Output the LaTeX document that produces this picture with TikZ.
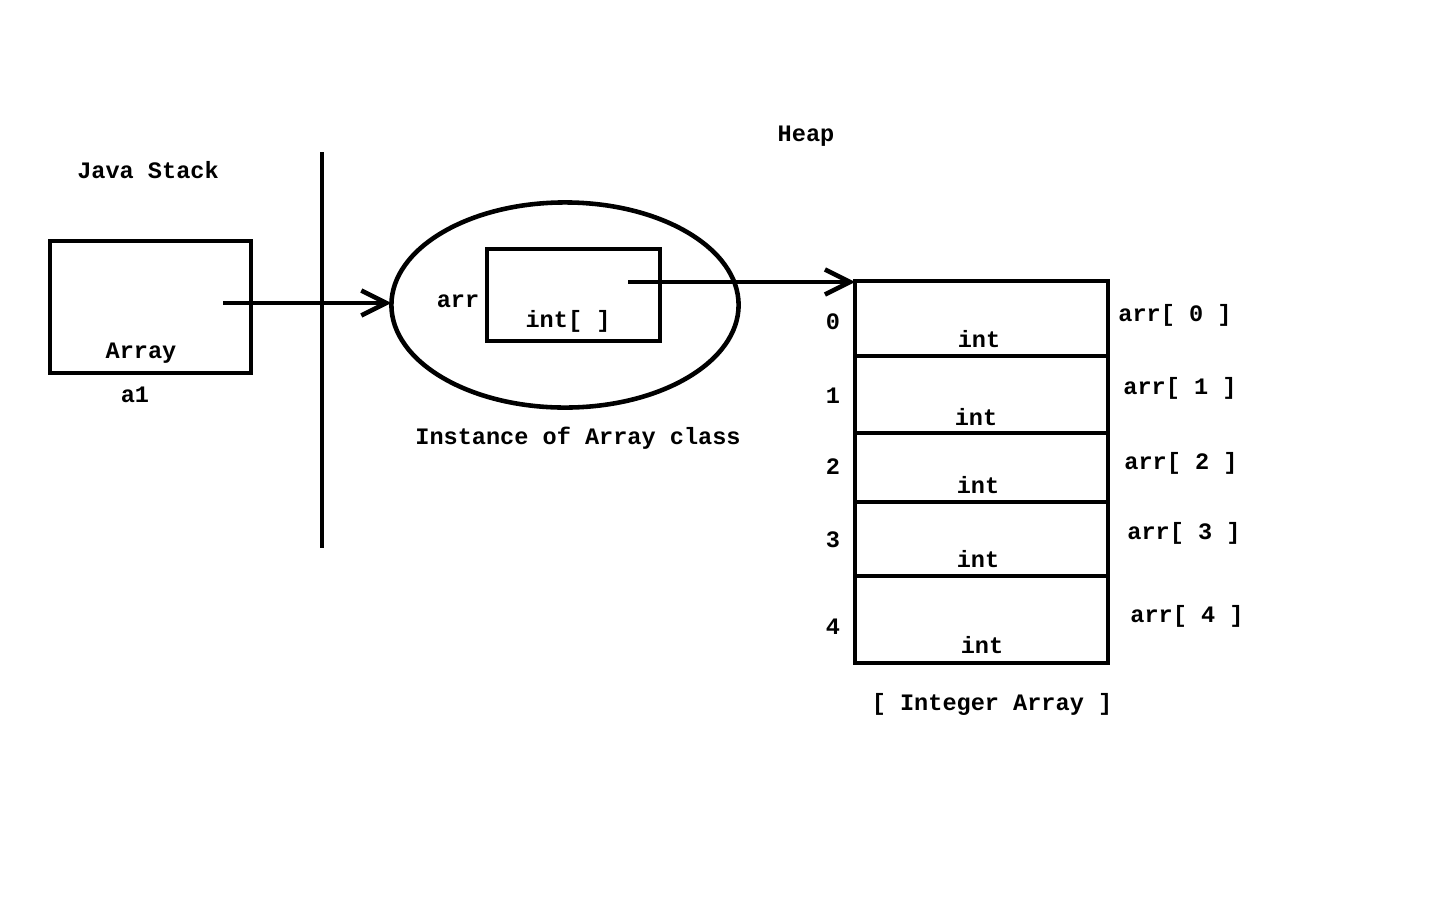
\documentclass[tikz,border=0pt]{standalone}
\usepackage{fontspec}
\setmonofont{Liberation Mono}
\usetikzlibrary{arrows.meta,shapes.geometric,positioning}

\tikzset{
  lbl/.style={font=\ttfamily\bfseries\fontsize{6.7}{8}\selectfont, inner sep=0pt},
  wire/.style={line width=1.3pt},
  ptr/.style={wire, -{Straight Barb[length=2.5mm,width=2.5mm]}},
  boxnode/.style={draw, line width=1.3pt, inner sep=0pt, outer sep=0pt, anchor=north west},
}

\begin{document}
\begin{tikzpicture}[x=0.01cm,y=-0.01cm]
\useasboundingbox (0,0) rectangle (1440,900);

% stack side
\node[lbl] (stacktitle) at (148,170) {Java Stack};
\node[boxnode, minimum width=2.01cm, minimum height=1.32cm] (stackbox) at (50,241) {};
\node[lbl] (stacktype) at (141,353) {Array};
\node[lbl] (stackvar) at (135,395) {a1};
\coordinate (septop) at (322,152);
\coordinate (sepbot) at (322,548);
\draw[wire] (septop) -- (sepbot);

% instance on the heap
\node[lbl] (heaptitle) at (806,136) {Heap};
\node[draw, ellipse, line width=1.3pt, inner sep=0pt, outer sep=0pt,
      minimum width=3.47cm, minimum height=2.05cm] (inst) at (565,305) {};
\node[boxnode, minimum width=1.73cm, minimum height=0.92cm] (fieldbox) at (487,249) {};
\node[lbl] (fieldname) at (458,301) {arr};
\node[lbl] (fieldtype) at (568,321) {int[ ]};
\node[lbl] (instlabel) at (578,438) {Instance of Array class};

% integer array
\foreach \t/\b/\i/\iy/\ix/\vy/\ax/\ay in {281/356/0/322/979/339/1175/315,
                                          356/433/1/396/976/417/1180/388,
                                          433/502/2/467/978/485/1181/463,
                                          502/576/3/540/978/559/1184/533,
                                          576/663/4/627/982/645/1187/616} {
  \pgfmathsetmacro{\h}{(\b-\t)/100}
  \node[boxnode, minimum width=2.53cm, minimum height=\h cm] (cell\i) at (855,\t) {};
  \node[lbl] (idx\i) at (833,\iy) {\i};
  \node[lbl] (val\i) at (\ix,\vy) {int};
  \node[lbl] (name\i) at (\ax,\ay) {arr[ \i\ ]};
}
\node[lbl] (arrlabel) at (992,704) {[ Integer Array ]};

% references
\coordinate (ref1) at (223,303);
\draw[ptr] (ref1) -- (ref1 -| inst.west);
\coordinate (ref2) at (628,282);
\draw[ptr] (ref2) -- (ref2 -| cell0.north west);
\end{tikzpicture}
\end{document}
